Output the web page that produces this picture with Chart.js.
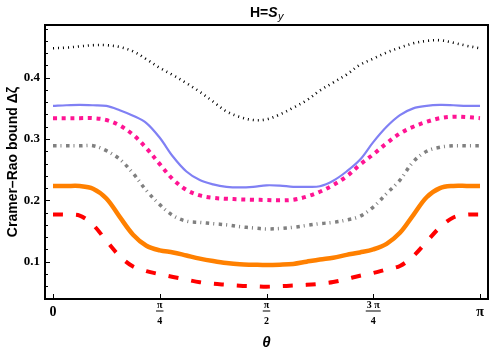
<!DOCTYPE html>
<html>
<head>
<meta charset="utf-8">
<script src="https://cdn.jsdelivr.net/npm/chart.js@4.4.1/dist/chart.umd.min.js"></script>
<style>
html,body{margin:0;padding:0;background:#fff;}
#wrap{width:493px;height:356px;position:relative;}
</style>
</head>
<body>
<div id="wrap"><canvas id="c" width="493" height="356"></canvas></div>
<script>
// theta in units of pi
const thetaPi = [0,0.03125,0.0625,0.09375,0.125,0.15625,0.1875,0.21875,0.25,0.28125,0.3125,0.34375,0.375,0.40625,0.4375,0.46875,0.5,0.53125,0.5625,0.59375,0.625,0.65625,0.6875,0.71875,0.75,0.78125,0.8125,0.84375,0.875,0.90625,0.9375,0.96875,1];

const blackDotted = [.448,.449,.451,.453,.453,.450,.443,.430,.416,.404,.391,.377,.361,.345,.336,.331,.332,.340,.351,.363,.379,.392,.405,.421,.431,.441,.449,.456,.460,.461,.457,.452,.448];
const blueSolid   = [.354,.355,.3555,.355,.354,.347,.338,.326,.302,.271,.247,.233,.226,.222,.221,.222,.2245,.224,.222,.222,.223,.232,.247,.266,.295,.320,.339,.350,.354,.3555,.355,.354,.354];
const pinkDotted  = [.334,.334,.334,.334,.331,.322,.307,.285,.259,.234,.217,.208,.204,.2025,.2016,.201,.2005,.200,.201,.206,.214,.225,.239,.258,.275,.293,.309,.320,.328,.334,.3364,.3357,.334];
const grayDotDash = [.289,.289,.289,.289,.281,.267,.244,.216,.193,.175,.166,.164,.162,.160,.157,.155,.1533,.154,.156,.159,.162,.164,.168,.174,.189,.211,.233,.263,.280,.2865,.289,.289,.289];
const orangeSolid = [.2233,.2233,.2233,.219,.203,.173,.144,.126,.1185,.115,.110,.105,.101,.0977,.0956,.095,.0945,.095,.0962,.0999,.1035,.1065,.111,.115,.120,.129,.147,.176,.205,.220,.2235,.2235,.2233];
const redDashed   = [.177,.1765,.175,.160,.134,.109,.092,.0845,.0795,.075,.0707,.0665,.064,.0624,.0608,.060,.0592,.060,.061,.0622,.064,.0668,.0717,.077,.0815,.0874,.093,.109,.1325,.156,.172,.1765,.177];

const yTickValues = [0.1, 0.2, 0.3, 0.4];
const yMinorTickValues = [0.06,0.08,0.12,0.14,0.16,0.18,0.22,0.24,0.26,0.28,0.32,0.34,0.36,0.38,0.42,0.44,0.46,0.48];
const xTickValues = [0, 0.25, 0.5, 0.75, 1];
const xTickNumerators = ["0", "\u03C0", "\u03C0", "3 \u03C0", "\u03C0"];
const xTickDenominators = ["", "4", "2", "4", ""];

const titleParts = ["H=", "S", "y"];
const yTitle = "Cramer\u2013Rao bound \u0394\u03B6";
const xTitle = "\u03B8";

function pts(arr){ return thetaPi.map((t,i)=>({x:t, y:arr[i]})); }

const framePlugin = {
  id: 'frame',
  afterDatasetsDraw(chart){
    const ctx = chart.ctx, a = chart.chartArea;
    const xs = chart.scales.x, ys = chart.scales.y;
    ctx.save();
    ctx.strokeStyle = '#000';
    ctx.lineWidth = 2;
    ctx.strokeRect(a.left, a.top, a.right - a.left, a.bottom - a.top);
    ctx.lineWidth = 1;
    ctx.beginPath();
    yTickValues.forEach(v=>{ const y = Math.round(ys.getPixelForValue(v))+0.5; ctx.moveTo(a.left, y); ctx.lineTo(a.left+5, y); });
    yMinorTickValues.forEach(v=>{ const y = Math.round(ys.getPixelForValue(v))+0.5; ctx.moveTo(a.left, y); ctx.lineTo(a.left+3, y); });
    xTickValues.forEach(v=>{ const x = Math.round(xs.getPixelForValue(v))+0.5; ctx.moveTo(x, a.bottom); ctx.lineTo(x, a.bottom-5); });
    ctx.stroke();
    ctx.restore();
  },
  afterDraw(chart){
    const ctx = chart.ctx, a = chart.chartArea;
    const xs = chart.scales.x;
    ctx.save();
    ctx.fillStyle = '#000';
    ctx.textAlign = 'center';
    ctx.textBaseline = 'middle';
    xTickValues.forEach((v,i)=>{
      const x = xs.getPixelForValue(v);
      if (xTickDenominators[i] === "") {
        ctx.font = 'bold 14px "Liberation Serif"';
        ctx.fillText(xTickNumerators[i], x, a.bottom + 13);
      } else {
        ctx.font = 'bold 10px "Liberation Serif"';
        const w = ctx.measureText(xTickNumerators[i]).width;
        ctx.fillText(xTickNumerators[i], x, a.bottom + 6);
        ctx.fillRect(x - w/2 - 1, a.bottom + 11.5, w + 2, 1);
        ctx.fillText(xTickDenominators[i], x, a.bottom + 22);
      }
    });
    ctx.font = 'bold italic 15px "Liberation Sans"';
    ctx.fillText(xTitle, (a.left + a.right)/2, 343);
    ctx.save();
    ctx.translate(13, (a.top + a.bottom)/2);
    ctx.rotate(-Math.PI/2);
    ctx.font = 'bold 14px "Liberation Sans"';
    ctx.fillText(yTitle, 0, 0);
    ctx.restore();
    ctx.textAlign = 'left';
    ctx.textBaseline = 'alphabetic';
    const f1 = 'bold 14px "Liberation Sans"', f2 = 'bold italic 14px "Liberation Sans"', f3 = 'italic 11px "Liberation Sans"';
    ctx.font = f1; const w1 = ctx.measureText(titleParts[0]).width;
    ctx.font = f2; const w2 = ctx.measureText(titleParts[1]).width;
    ctx.font = f3; const w3 = ctx.measureText(titleParts[2]).width;
    let x0 = (a.left + a.right)/2 - (w1+w2+w3)/2;
    ctx.font = f1; ctx.fillText(titleParts[0], x0, 17);
    ctx.font = f2; ctx.fillText(titleParts[1], x0 + w1, 17);
    ctx.font = f3; ctx.fillText(titleParts[2], x0 + w1 + w2 + 0.5, 20);
    ctx.restore();
  }
};

const ds = (label, arr, color, width, dash) => ({
  label, data: pts(arr), borderColor: color, backgroundColor: color,
  borderWidth: width, borderDash: dash, borderCapStyle: 'butt', borderJoinStyle: 'round',
  pointRadius: 0, fill: false, tension: 0.35
});

new Chart(document.getElementById('c'), {
  type: 'line',
  data: {
    datasets: [
      ds('black', blackDotted, '#000000', 2.6, [1, 4]),
      ds('blue', blueSolid, '#8080f4', 2.2, []),
      ds('pink', pinkDotted, '#ff1493', 4, [4, 4.7]),
      ds('gray', grayDotDash, '#808080', 3.5, [3.5, 4, 1, 4.5]),
      ds('orange', orangeSolid, '#ff8000', 4.5, []),
      ds('red', redDashed, '#ff0000', 4, [10, 13])
    ]
  },
  options: {
    responsive: false,
    animation: false,
    devicePixelRatio: 1,
    layout: { padding: { left: 0, top: 25, right: 5, bottom: 0 } },
    plugins: { legend: { display: false }, title: { display: false }, tooltip: { enabled: false } },
    scales: {
      x: {
        type: 'linear', min: -0.01875, max: 1.01875,
        grid: { display: false }, border: { display: false },
        ticks: { display: false },
        afterFit(s){ s.height = 57; }
      },
      y: {
        type: 'linear', min: 0.0391, max: 0.4859,
        grid: { display: false, drawTicks: false }, border: { display: false },
        afterBuildTicks(s){ s.ticks = yTickValues.map(v=>({value:v})); },
        ticks: {
          padding: 5, color: '#000',
          font: { family: '"Liberation Serif"', size: 13, weight: 'bold' },
          callback: (v)=> Number(v).toFixed(1)
        },
        afterFit(s){ s.width = 45; }
      }
    }
  },
  plugins: [framePlugin]
});
</script>
</body>
</html>
